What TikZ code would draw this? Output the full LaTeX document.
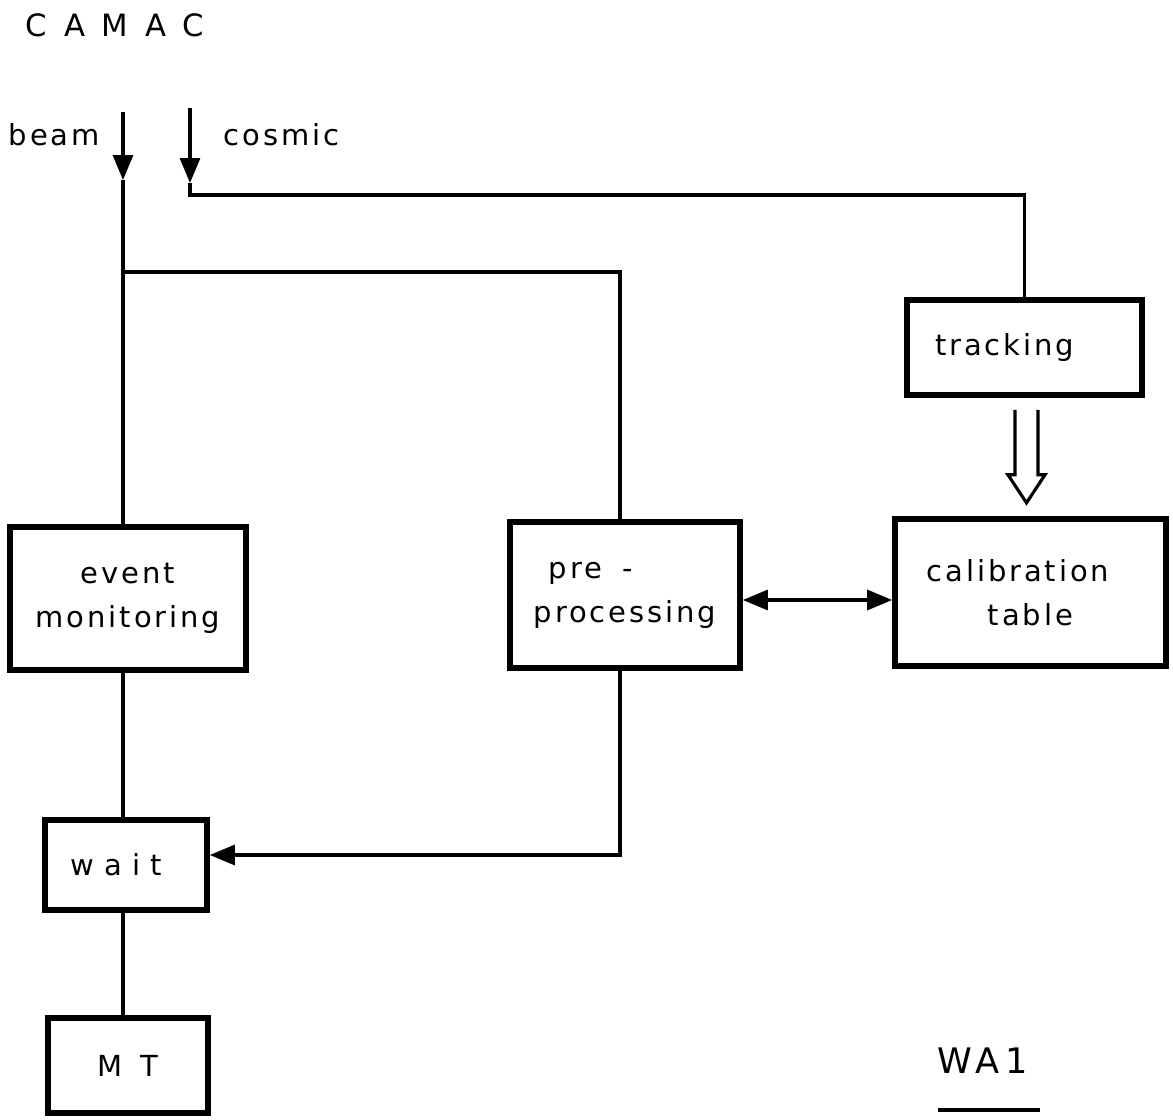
\documentclass[tikz,border=0pt]{standalone}
\usepackage{fontspec}
\setmainfont{DejaVu Sans}[LetterSpace=10]
\usetikzlibrary{arrows.meta}

\begin{document}
\begin{tikzpicture}[
		box/.style={draw, line width=3.2pt, align=center, font=\fontsize{16.5}{25}\selectfont},
		lbl/.style={font=\fontsize{16.5}{20}\selectfont},
		conn/.style={line width=1.8pt},
		tip/.tip={Triangle[length=5mm, width=4mm]}
	]
		\useasboundingbox (0,0) rectangle (23.46,-22.4);

		% boxes
		\node[box, minimum width=4.72cm, minimum height=2.86cm] (evmon) at (2.56,-11.97) {event\\monitoring};
		\node[box, minimum width=4.6cm, minimum height=2.92cm, align=left] (prep) at (12.5,-11.9) {\hspace*{0.3cm}pre\hspace{0.7em}-\\processing};
		\node[box, minimum width=5.42cm, minimum height=2.94cm] (calib) at (20.61,-11.85) {calibration\hspace*{0.5cm}\\table};
		\node[box, minimum width=4.7cm, minimum height=1.9cm] (track) at (20.49,-6.95) {tracking\hspace*{0.8cm}};
		\node[box, minimum width=3.24cm, minimum height=1.8cm] (wait) at (2.52,-17.3) {{\addfontfeature{LetterSpace=35}wait}\hspace*{0.4cm}};
		\node[box, minimum width=3.2cm, minimum height=1.9cm] (mt) at (2.56,-21.31) {M\hspace{0.6em}T};

		% labels
		\node[lbl, font=\fontsize{17.5}{20}\selectfont] (camac) at (2.3,-0.5) {\addfontfeature{LetterSpace=55}CAMAC};
		\node[lbl, anchor=east] (beam) at (2.12,-2.7) {beam};
		\node[lbl, anchor=west] (cosmic) at (4.35,-2.7) {cosmic};
		\node[lbl, font=\fontsize{20}{24}\selectfont] (wa) at (19.65,-21.22) {\addfontfeature{LetterSpace=15}WA1};
		\draw[conn] ([xshift=-0.9cm, yshift=-0.98cm]wa.center) -- ([xshift=1.15cm, yshift=-0.98cm]wa.center);

		% inputs
		\coordinate (beamtop) at (2.46,-2.24);
		\coordinate (beamarr) at (2.46,-3.6);
		\coordinate (cosmtop) at (3.8,-2.16);
		\coordinate (cosmarr) at (3.8,-3.66);
		\coordinate (cosmbend) at (3.8,-3.9);
		\coordinate (junc) at (2.46,-5.44);

		\draw[conn, -{tip}] (beamtop) -- (beamarr);
		\draw[conn] (beamarr) -- (beamarr |- evmon.north);
		\draw[conn, -{tip}] (cosmtop) -- (cosmarr);
		\draw[conn] (cosmarr) -- (cosmbend) -| (track.north);

		% connectors
		\draw[conn] (junc) -| ([xshift=-1mm]prep.north);
		\draw[conn] (evmon.south -| junc) -- (wait.north -| junc);
		\draw[conn] (wait.south -| junc) -- (mt.north -| junc);
		\draw[conn, -{tip}] ([xshift=-1mm]prep.south) |- ([yshift=2mm]wait.east);
		\draw[conn, {tip}-{tip}] ([yshift=-1mm]prep.east) -- ([yshift=-1mm]prep.east -| calib.west);

		% hollow arrow tracking -> calibration
		\draw[conn, line join=miter] ([xshift=-1.9mm, yshift=-2.4mm]track.south) -- ++(0,-1.3) -- ++(-0.14,0)
			-- ++(0.37,-0.56) -- ++(0.37,0.56) -- ++(-0.14,0) -- ++(0,1.3);
	\end{tikzpicture}
\end{document}
